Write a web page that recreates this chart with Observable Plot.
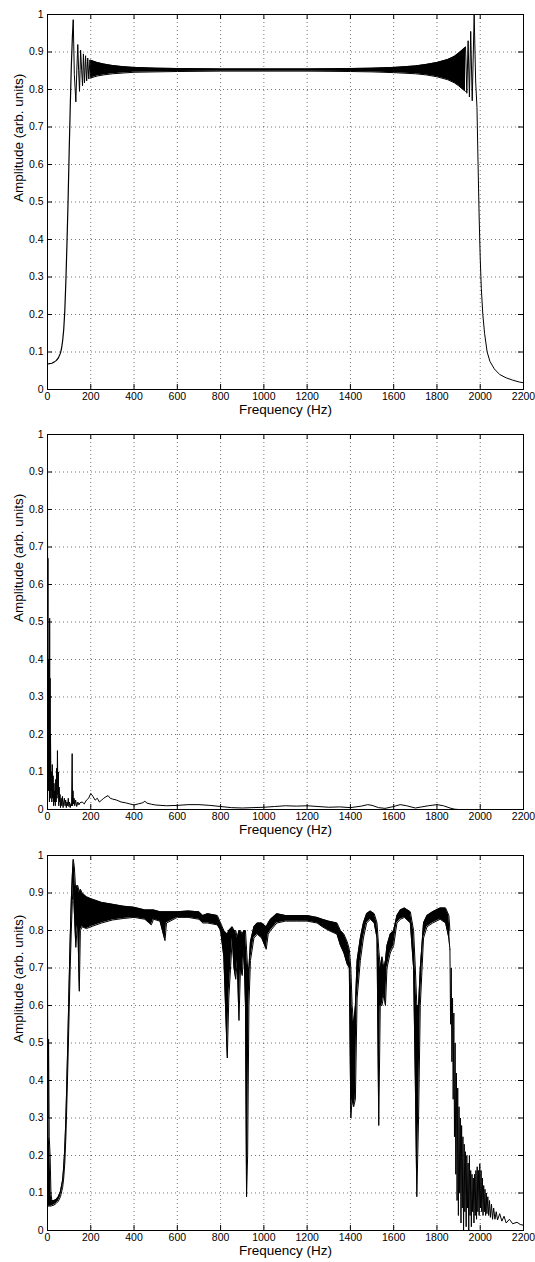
<!DOCTYPE html>
<html><head><meta charset="utf-8">
<script src="https://cdn.jsdelivr.net/npm/d3@7"></script>
<script src="https://cdn.jsdelivr.net/npm/@observablehq/plot@0.6"></script>
<style>body{margin:0;background:#fff} svg{display:block}</style>
</head><body><div id="c"></div><script>
const xTicks = [0,200,400,600,800,1000,1200,1400,1600,1800,2000,2200];
const yTicks = [0,0.1,0.2,0.3,0.4,0.5,0.6,0.7,0.8,0.9,1];
const xLabel = "Frequency (Hz)";
const yLabel = "Amplitude (arb. units)";

// Panel 1: [Hz, amplitude]
const rise1 = [[0,0.068],[10,0.069],[20,0.07],[30,0.073],[40,0.077],[50,0.084],[60,0.097],[65,0.11],[70,0.13],[75,0.16],[80,0.21],[85,0.29],[90,0.39],[95,0.5],[100,0.63],[105,0.75],[110,0.86],[115,0.94],[119,0.985]];
const edgeL1 = [[119,0.985],[124,0.84],[131,0.767],[136,0.86],[140,0.92],[144,0.85],[148,0.795],[151,0.86],[153,0.905],[158,0.85],[162,0.81],[166,0.895],[171,0.818],[176,0.89],[181,0.823],[186,0.884],[191,0.828],[196,0.879],[201,0.831]];
// dense oscillation envelope: [Hz, low, high]
const band1 = [[200,0.831,0.878],[230,0.836,0.872],[260,0.839,0.868],[300,0.842,0.864],[350,0.844,0.861],[400,0.846,0.859],[500,0.847,0.857],[600,0.848,0.856],[800,0.849,0.855],[1000,0.849,0.855],[1200,0.849,0.855],[1400,0.848,0.856],[1500,0.847,0.857],[1600,0.845,0.859],[1700,0.842,0.863],[1750,0.839,0.867],[1800,0.834,0.872],[1850,0.826,0.88],[1880,0.818,0.888],[1900,0.81,0.897],[1920,0.8,0.907],[1932,0.795,0.913]];
const edgeR1 = [[1932,0.913],[1938,0.79],[1944,0.93],[1950,0.78],[1956,0.955],[1963,0.77],[1972,1.0],[1979,0.82],[1985,0.752],[1990,0.6],[1995,0.46],[2000,0.35],[2005,0.27],[2012,0.2],[2020,0.15],[2032,0.1],[2045,0.075],[2065,0.055],[2090,0.04],[2120,0.031],[2150,0.025],[2180,0.02],[2200,0.018]];

// Panel 2: [Hz, amplitude]
const spec2 = [[0,1.0],[1,0.2],[2,0.67],[3,0.1],[4,0.4],[5,0.05],[6,0.3],[7,0.08],[8,0.2],[9,0.02],[10,0.51],[11,0.1],[12,0.35],[13,0.03],[14,0.2],[16,0.05],[18,0.1],[20,0.02],[22,0.12],[24,0.03],[26,0.09],[28,0.01],[30,0.07],[32,0.02],[34,0.05],[36,0.01],[38,0.08],[40,0.02],[42,0.11],[44,0.03],[46,0.157],[48,0.04],[50,0.1],[52,0.01],[54,0.06],[56,0.02],[58,0.04],[60,0.005],[63,0.03],[66,0.01],[69,0.035],[72,0.005],[75,0.02],[78,0.03],[81,0.01],[84,0.025],[87,0.005],[90,0.02],[93,0.01],[96,0.03],[99,0.008],[102,0.02],[105,0.005],[108,0.015],[111,0.01],[114,0.149],[116,0.01],[118,0.05],[120,0.015],[123,0.03],[126,0.01],[130,0.025],[135,0.008],[140,0.02],[145,0.012],[150,0.018],[160,0.02],[170,0.015],[180,0.025],[190,0.03],[200,0.043],[210,0.035],[220,0.025],[230,0.03],[240,0.02],[250,0.025],[260,0.03],[270,0.034],[280,0.037],[290,0.03],[300,0.028],[320,0.025],[340,0.02],[360,0.018],[380,0.015],[400,0.012],[420,0.015],[440,0.018],[450,0.022],[460,0.017],[480,0.014],[500,0.012],[550,0.01],[600,0.011],[650,0.013],[700,0.013],[750,0.011],[800,0.008],[850,0.005],[900,0.004],[950,0.005],[1000,0.006],[1050,0.008],[1100,0.01],[1150,0.009],[1200,0.01],[1250,0.008],[1300,0.006],[1350,0.007],[1400,0.005],[1450,0.009],[1480,0.013],[1500,0.011],[1530,0.005],[1560,0.003],[1600,0.008],[1630,0.013],[1660,0.01],[1700,0.004],[1730,0.007],[1760,0.01],[1800,0.013],[1830,0.01],[1860,0.004],[1880,0.001],[1900,0],[2000,0],[2100,0],[2200,0]];

// Panel 3: envelope [Hz, low, high]
const band3 = [[0,0.07,0.73],[2,0.065,0.3],[5,0.065,0.51],[8,0.065,0.25],[12,0.065,0.2],[16,0.065,0.1],[20,0.066,0.08],[30,0.068,0.08],[40,0.072,0.083],[50,0.078,0.09],[60,0.09,0.104],[70,0.115,0.135],[75,0.14,0.17],[80,0.18,0.22],[85,0.25,0.3],[90,0.35,0.41],[95,0.46,0.53],[100,0.58,0.66],[105,0.7,0.78],[110,0.8,0.88],[115,0.88,0.95],[119,0.93,0.99],[124,0.85,0.97],[131,0.755,0.9],[136,0.8,0.92],[140,0.82,0.92],[147,0.638,0.9],[152,0.8,0.91],[160,0.81,0.9],[180,0.805,0.89],[200,0.81,0.885],[250,0.82,0.875],[300,0.828,0.87],[350,0.832,0.865],[400,0.835,0.862],[450,0.83,0.855],[480,0.815,0.855],[490,0.83,0.855],[520,0.825,0.85],[543,0.773,0.85],[550,0.82,0.85],[600,0.835,0.85],[650,0.835,0.852],[700,0.83,0.85],[718,0.82,0.84],[740,0.82,0.845],[785,0.815,0.84],[800,0.8,0.82],[815,0.73,0.8],[831,0.46,0.79],[838,0.62,0.8],[854,0.78,0.81],[862,0.7,0.8],[870,0.67,0.8],[877,0.72,0.78],[885,0.56,0.8],[892,0.7,0.8],[900,0.68,0.79],[908,0.75,0.8],[915,0.6,0.8],[920,0.09,0.75],[925,0.2,0.7],[931,0.6,0.7],[938,0.72,0.77],[954,0.78,0.81],[970,0.79,0.82],[990,0.78,0.82],[1011,0.75,0.81],[1020,0.79,0.82],[1031,0.8,0.83],[1060,0.82,0.845],[1100,0.825,0.84],[1150,0.825,0.84],[1200,0.825,0.84],[1246,0.82,0.835],[1270,0.81,0.83],[1300,0.8,0.825],[1338,0.79,0.82],[1354,0.76,0.8],[1370,0.74,0.79],[1385,0.71,0.77],[1395,0.7,0.75],[1402,0.3,0.7],[1408,0.35,0.6],[1415,0.33,0.55],[1423,0.35,0.6],[1431,0.62,0.72],[1446,0.72,0.78],[1460,0.78,0.82],[1475,0.82,0.845],[1492,0.83,0.852],[1510,0.82,0.845],[1523,0.78,0.82],[1531,0.28,0.75],[1538,0.6,0.7],[1546,0.6,0.73],[1555,0.63,0.7],[1562,0.6,0.72],[1569,0.7,0.76],[1584,0.74,0.79],[1600,0.76,0.8],[1615,0.82,0.84],[1631,0.83,0.855],[1650,0.835,0.86],[1677,0.82,0.85],[1692,0.7,0.8],[1700,0.4,0.7],[1707,0.09,0.6],[1715,0.3,0.6],[1723,0.6,0.7],[1738,0.78,0.82],[1754,0.81,0.84],[1780,0.82,0.85],[1815,0.83,0.86],[1840,0.82,0.86],[1855,0.78,0.84],[1860,0.75,0.8]];
// Panel 3 noisy tail: [Hz, amplitude]
const tail3 = [[1860,0.75],[1863,0.55],[1866,0.7],[1869,0.45],[1872,0.62],[1875,0.35],[1878,0.58],[1881,0.25],[1884,0.5],[1887,0.15],[1890,0.42],[1893,0.08],[1896,0.38],[1899,0.04],[1902,0.33],[1905,0.1],[1908,0.3],[1911,0.02],[1914,0.28],[1917,0.06],[1920,0.25],[1923,0.0],[1926,0.23],[1929,0.05],[1932,0.21],[1935,0.01],[1938,0.2],[1941,0.06],[1944,0.18],[1947,0.0],[1950,0.2],[1953,0.04],[1956,0.16],[1959,0.01],[1962,0.15],[1965,0.05],[1968,0.14],[1971,0.02],[1974,0.15],[1977,0.04],[1980,0.16],[1983,0.03],[1986,0.17],[1989,0.05],[1992,0.16],[1995,0.04],[1998,0.178],[2001,0.06],[2004,0.16],[2007,0.05],[2010,0.14],[2013,0.04],[2016,0.12],[2019,0.05],[2022,0.11],[2025,0.04],[2028,0.1],[2031,0.045],[2035,0.09],[2039,0.04],[2043,0.08],[2047,0.035],[2052,0.07],[2057,0.03],[2062,0.06],[2068,0.03],[2074,0.05],[2080,0.028],[2090,0.045],[2100,0.025],[2110,0.038],[2120,0.02],[2135,0.03],[2150,0.018],[2170,0.022],[2185,0.016],[2200,0.014]];

const F = d => d[0], A = d => d[1], LO = d => d[1], HI = d => d[2];
const lineOpts = {x: F, y: A, stroke: "#000", strokeWidth: 1.2};
function band(data) {
  return [
    Plot.areaY(data, {x: F, y1: LO, y2: HI, fill: "#000", curve: "linear"}),
    Plot.line(data, {x: F, y: LO, stroke: "#000", strokeWidth: 1}),
    Plot.line(data, {x: F, y: HI, stroke: "#000", strokeWidth: 1})
  ];
}
const fmtY = d => String(+d.toFixed(1));
function panel(height, marks) {
  const inner = 375, innerW = 476;
  return Plot.plot({
    width: 535, height,
    marginLeft: 47, marginRight: 12, marginTop: 14, marginBottom: height - 14 - inner,
    x: {domain: [0, 2200]},
    y: {domain: [0, 1]},
    style: {fontFamily: "'Liberation Sans', Arial, sans-serif", fontSize: "10.5px", color: "#000", background: "#fff", overflow: "visible"},
    marks: [
      Plot.gridX(xTicks, {stroke: "#000", strokeOpacity: 0.55, strokeDasharray: "1,3"}),
      Plot.gridY(yTicks, {stroke: "#000", strokeOpacity: 0.55, strokeDasharray: "1,3"}),
      ...marks,
      Plot.frame({stroke: "#000", strokeWidth: 1}),
      Plot.tickX(xTicks, {x: d => d, stroke: "#000", insetTop: inner - 5}),
      Plot.tickX(xTicks, {x: d => d, stroke: "#000", insetBottom: inner - 5}),
      Plot.tickY(yTicks, {y: d => d, stroke: "#000", insetLeft: innerW - 5}),
      Plot.tickY(yTicks, {y: d => d, stroke: "#000", insetRight: innerW - 5}),
      Plot.axisX(xTicks, {tickSize: 0, tickPadding: 3, tickFormat: d => String(d), label: null}),
      Plot.axisY(yTicks, {tickSize: 0, tickPadding: 4, tickFormat: fmtY, label: null}),
      Plot.text([xLabel], {text: d => d, frameAnchor: "bottom", dy: 24, fontSize: 13.5}),
      Plot.text([yLabel], {text: d => d, frameAnchor: "left", dx: -29, rotate: -90, fontSize: 13.5})
    ]
  });
}
const c = document.getElementById("c");
c.append(panel(420, [
  Plot.line(rise1, lineOpts),
  Plot.line(edgeL1, {...lineOpts, strokeWidth: 1}),
  ...band(band1),
  Plot.line(edgeR1, {...lineOpts, strokeWidth: 1})
]));
c.append(panel(421, [
  Plot.line(spec2, {...lineOpts, strokeWidth: 1})
]));
c.append(panel(421, [
  ...band(band3),
  Plot.line(tail3, {...lineOpts, strokeWidth: 1})
]));
</script></body></html>
